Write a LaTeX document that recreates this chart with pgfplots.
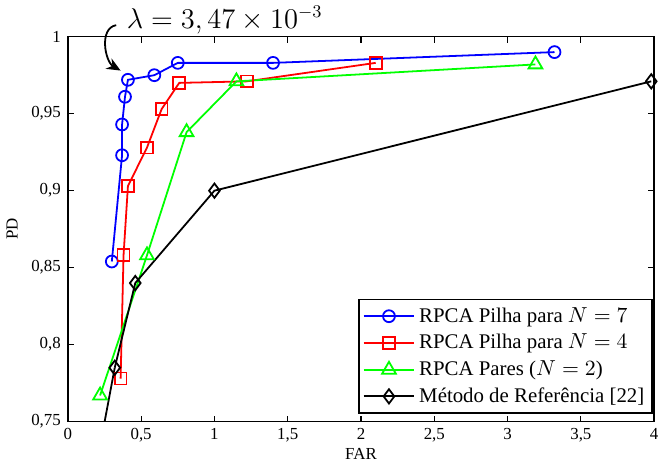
\documentclass[border=0pt]{standalone}
\usepackage{fontspec}
\setmainfont{Liberation Serif}
\usepackage{pgfplots}
\pgfplotsset{compat=1.18}
\usetikzlibrary{arrows.meta}
\begin{document}
\begin{tikzpicture}
\begin{axis}[
  scale only axis,
  width=295.5pt, height=194pt,
  xmin=0, xmax=4, ymin=0.75, ymax=1,
  xtick={0,0.5,...,4}, ytick={0.75,0.8,...,1},
  /pgf/number format/use comma,
  /pgf/number format/assume math mode=true,
  tick align=inside, tick pos=both,
  major tick length=3pt,
  axis line style={line width=0.8pt},
  tick style={line width=0.6pt, black},
  tick label style={font=\fontsize{8.5}{10}\selectfont},
  label style={font=\fontsize{8.5}{10}\selectfont},
  xlabel={FAR}, ylabel={PD},
  xlabel style={yshift=4pt},
  ylabel style={yshift=0pt},
  clip=false,
  legend style={at={(0.998,0.02)}, anchor=south east,
    font=\fontsize{10.5}{12.5}\selectfont, draw=black, line width=0.8pt,
    row sep=0.5pt, inner sep=2pt},
  legend image code/.code={\draw[mark repeat=2, mark phase=2]
    plot coordinates {(0cm,0cm) (0.45cm,0cm) (0.9cm,0cm)};},
  legend cell align=left,
  every axis plot/.append style={line width=0.9pt, mark size=3pt},
]
\addplot[blue, mark=o] coordinates {
  (0.30,0.854)(0.37,0.923)(0.37,0.943)(0.39,0.961)(0.41,0.972)
  (0.59,0.975)(0.75,0.983)(1.40,0.983)(3.32,0.990)};
\addlegendentry{RPCA Pilha para $N=7$}
\addplot[red, mark=square] coordinates {
  (0.36,0.778)(0.38,0.858)(0.41,0.903)(0.54,0.928)(0.64,0.953)
  (0.76,0.970)(1.22,0.971)(2.10,0.983)};
\addlegendentry{RPCA Pilha para $N=4$}
\addplot[green, mark=triangle, mark size=4pt] coordinates {
  (0.22,0.767)(0.54,0.858)(0.81,0.938)(1.15,0.971)(3.19,0.982)};
\addlegendentry{RPCA Pares ($N=2$)}
\addplot[black, mark=diamond, mark size=3.6pt] coordinates {
  (0.32,0.785)(0.46,0.840)(1.0,0.900)(3.98,0.971)};
\addlegendentry{Método de Referência [22]}
\draw[black, line width=0.9pt] (axis cs:0.32,0.785) -- (axis cs:0.251,0.75);
\node[anchor=base west, font=\fontsize{13.5}{15}\selectfont, inner sep=0pt] (lam) at (axis cs:0.40,1.0055) {$\lambda=3,47\times10^{-3}$};
\draw[line width=0.9pt, -{Stealth[length=7pt,width=6pt]}] (axis cs:0.33,1.0075) to[out=190, in=150] (axis cs:0.36,0.978);
\end{axis}
\path (lam.north) ++(0,3pt) coordinate (top);
\end{tikzpicture}
\end{document}
